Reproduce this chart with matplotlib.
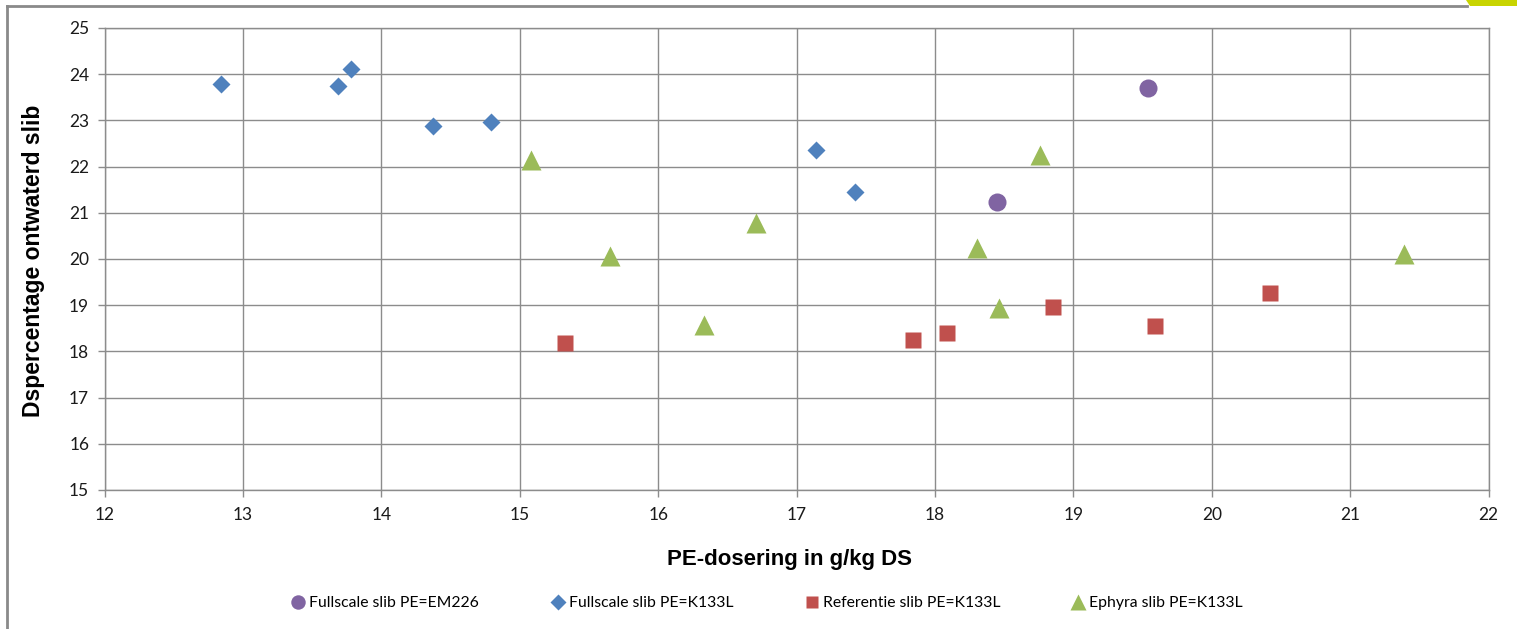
import matplotlib
matplotlib.use("Agg")
import matplotlib.pyplot as plt
from matplotlib.patches import Polygon
from matplotlib.lines import Line2D

plt.rcParams["font.family"] = ["Lato", "DejaVu Sans"]

# Fullscale slib PE=EM226
em226_x = [19.54, 18.45]
em226_y = [23.70, 21.23]

# Fullscale slib PE=K133L
fs_x = [12.84, 13.69, 13.78, 14.37, 14.79, 17.14, 17.42]
fs_y = [23.79, 23.74, 24.11, 22.88, 22.97, 22.36, 21.45]

# Referentie slib PE=K133L
ref_x = [15.33, 17.84, 18.09, 18.85, 19.59, 20.42]
ref_y = [18.18, 18.25, 18.40, 18.96, 18.55, 19.26]

# Ephyra slib PE=K133L
eph_x = [15.08, 15.65, 16.33, 16.71, 18.30, 18.46, 18.76, 21.39]
eph_y = [22.14, 20.06, 18.57, 20.78, 20.24, 18.94, 22.25, 20.11]

GRID = "#8c8c8c"
LABEL_FONT = ["Liberation Sans", "DejaVu Sans"]

fig = plt.figure(figsize=(15.17, 6.29), dpi=100)
ax = fig.add_axes([0.0689, 0.221, 0.9124, 0.7345])

ax.plot(em226_x, em226_y, "o", color="#8064A2", ms=13, mec="none", label="Fullscale slib PE=EM226", zorder=3)
ax.plot(fs_x, fs_y, "D", color="#4F81BD", ms=9.6, mec="none", label="Fullscale slib PE=K133L", zorder=3)
ax.plot(ref_x, ref_y, "s", color="#C0504D", ms=11.5, mec="none", label="Referentie slib PE=K133L", zorder=3)
ax.plot(eph_x, eph_y, "^", color="#9BBB59", ms=14.4, mec="none", label="Ephyra slib PE=K133L", zorder=3)

ax.set_xlim(12, 22)
ax.set_ylim(15, 25)
ax.set_xticks(range(12, 23))
ax.set_yticks(range(15, 26))
ax.grid(True, color=GRID, linewidth=1)
ax.set_axisbelow(True)
for s in ax.spines.values():
    s.set_color(GRID)
    s.set_linewidth(1)
ax.tick_params(axis="both", color=GRID, length=5, width=1, labelsize=12.5, labelcolor="#1a1a1a")
ax.tick_params(axis="x", pad=7)
ax.tick_params(axis="y", pad=6)

ax.set_xlabel("PE-dosering in g/kg DS", fontsize=16, fontweight="bold", family=LABEL_FONT)
ax.set_ylabel("Dspercentage ontwaterd slib", fontsize=16.5, fontweight="bold", family=LABEL_FONT)
ax.xaxis.set_label_coords(0.495, -0.128)
ax.yaxis.set_label_coords(-0.043, 0.497)

handles, labels = ax.get_legend_handles_labels()
fig.legend(handles, labels, loc="center", bbox_to_anchor=(0.506, 0.041), ncol=4,
           frameon=False, fontsize=11.3, handlelength=0.8, handletextpad=0.3,
           columnspacing=4.6, markerscale=0.8)

# outer chart frame (partially visible)
fig.add_artist(Line2D([7 / 1517, 7 / 1517], [0, 1 - 5.5 / 629], transform=fig.transFigure,
                      color="#8a8a8a", linewidth=2))
fig.add_artist(Line2D([7 / 1517, 1467 / 1517], [1 - 5.5 / 629, 1 - 5.5 / 629], transform=fig.transFigure,
                      color="#8a8a8a", linewidth=2))
fig.add_artist(Polygon([(1466 / 1517, 1), (1, 1), (1, 1 - 6 / 629), (1470 / 1517, 1 - 6 / 629)],
                       closed=True, transform=fig.transFigure, facecolor="#c8d400", edgecolor="none"))

fig.savefig("out.png", dpi=100)
